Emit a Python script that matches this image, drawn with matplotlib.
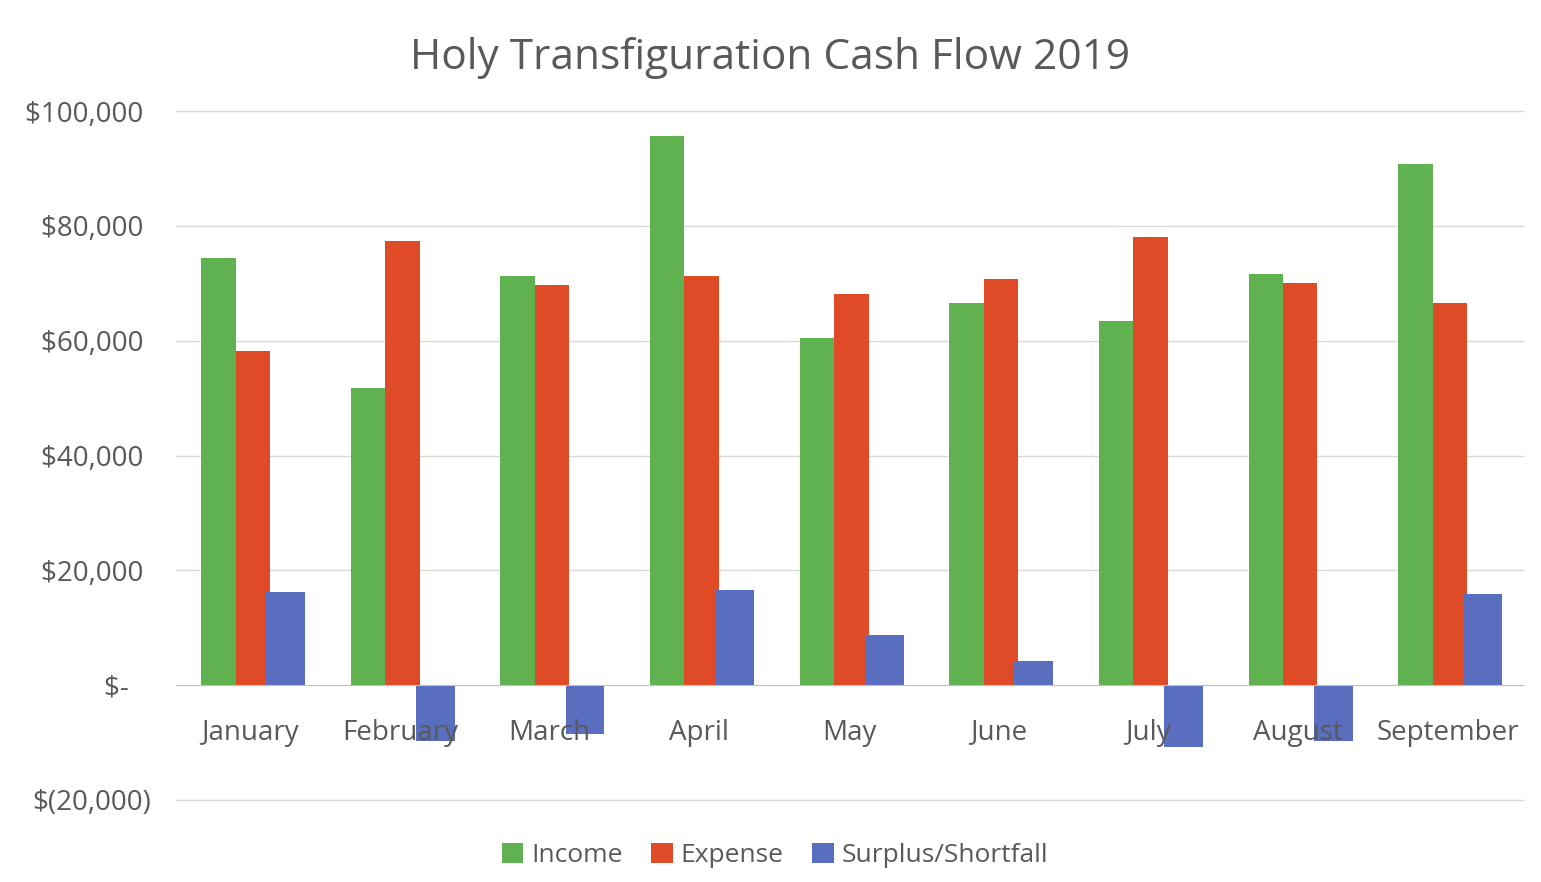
"""Holy Transfiguration cash flow 2019 - grouped bar chart."""

import numpy as np
import matplotlib.pyplot as plt
from matplotlib.ticker import FuncFormatter

months = ["January", "February", "March", "April", "May", "June",
          "July", "August", "September"]
income = [74400, 51700, 71300, 95600, 60500, 66600, 63500, 71600, 90800]
expense = [58300, 77400, 69700, 71300, 68200, 70800, 78100, 70100, 66600]
surplus = [16300, -9800, -8500, 16500, 8700, 4200, -10800, -9700, 15800]

GREEN = "#5fb24f"
RED = "#e04b27"
BLUE = "#5a6ebf"
TEXT = "#595959"

plt.rcParams["font.family"] = ["Open Sans", "DejaVu Sans"]


def money(v, _pos):
    # accounting style: zero as a dash, negatives in brackets
    if v == 0:
        return "$-   "
    if v < 0:
        return "$({:,.0f})".format(-v)
    return "${:,.0f} ".format(v)


fig = plt.figure(figsize=(15.41, 8.82), dpi=100)
ax = fig.add_axes([0.114, 0.093, 0.874, 0.781])

x = np.arange(len(months))
ax.bar(x - 0.215, income, width=0.23, color=GREEN, label="Income", zorder=1)
ax.bar(x + 0.015, expense, width=0.23, color=RED, label="Expense", zorder=1)
ax.bar(x + 0.235, surplus, width=0.26, color=BLUE, label="Surplus/Shortfall",
       zorder=1)

yt = np.arange(-20000, 100001, 20000)
for y in yt:
    if y != 0:
        ax.axhline(y, color="#d9d9d9", linewidth=1.0, zorder=0.5, clip_on=False)

ax.set_ylim(-20000, 100000)
ax.set_xlim(-0.5, len(months) - 0.5)
ax.set_yticks(yt)
ax.yaxis.set_major_formatter(FuncFormatter(money))

for s in ["top", "right", "left"]:
    ax.spines[s].set_visible(False)
ax.spines["bottom"].set_position(("data", 0))
ax.spines["bottom"].set_color("#bfbfbf")
ax.spines["bottom"].set_zorder(3)

ax.set_xticks(x)
ax.set_xticklabels(months)
ax.tick_params(axis="x", length=0, pad=24, labelsize=20, labelcolor=TEXT)
ax.tick_params(axis="y", length=0, pad=18, labelsize=20, labelcolor=TEXT)
ax.xaxis.set_zorder(4)

fig.suptitle("Holy Transfiguration Cash Flow 2019", y=0.958, fontsize=30.5,
             color=TEXT)

ax.legend(loc="upper center", bbox_to_anchor=(0.445, -0.028), ncol=3,
          frameon=False, fontsize=19, labelcolor=TEXT, handlelength=0.8,
          handleheight=0.8, handletextpad=0.3, columnspacing=1.1)

fig.savefig("out.png", dpi=100)
